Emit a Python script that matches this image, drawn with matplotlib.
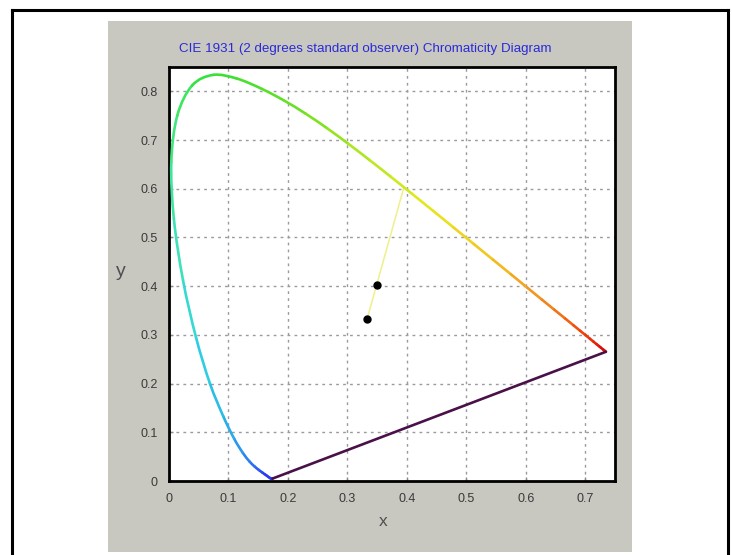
import numpy as np
import matplotlib
matplotlib.use("Agg")
import matplotlib.pyplot as plt
from matplotlib.colors import LinearSegmentedColormap
from matplotlib.patches import Rectangle, PathPatch
from matplotlib.path import Path
from matplotlib.lines import Line2D

# CIE 1931 spectral locus (wavelength nm, x, y)
wavelengths = [380, 390, 400, 410, 420, 425, 430, 435, 440, 445, 450, 455, 460, 465,
               470, 475, 480, 485, 490, 495, 500, 505, 510, 515, 520, 525, 530, 535,
               540, 545, 550, 555, 560, 565, 570, 575, 580, 585, 590, 595, 600, 605,
               610, 615, 620, 625, 630, 635, 640, 645, 650, 660, 670, 680, 700]
locus_x = [0.1741, 0.1738, 0.1733, 0.1726, 0.1714, 0.1703, 0.1689, 0.1669, 0.1644, 0.1611,
           0.1566, 0.1510, 0.1440, 0.1355, 0.1241, 0.1096, 0.0913, 0.0687, 0.0454, 0.0235,
           0.0082, 0.0039, 0.0139, 0.0389, 0.0743, 0.1142, 0.1547, 0.1929, 0.2296, 0.2658,
           0.3016, 0.3373, 0.3731, 0.4087, 0.4441, 0.4788, 0.5125, 0.5448, 0.5752, 0.6029,
           0.6270, 0.6482, 0.6658, 0.6801, 0.6915, 0.7006, 0.7079, 0.7140, 0.7190, 0.7230,
           0.7260, 0.7300, 0.7320, 0.7334, 0.7347]
locus_y = [0.0050, 0.0049, 0.0048, 0.0048, 0.0051, 0.0058, 0.0069, 0.0086, 0.0109, 0.0138,
           0.0177, 0.0227, 0.0297, 0.0399, 0.0578, 0.0868, 0.1327, 0.2007, 0.2950, 0.4127,
           0.5384, 0.6548, 0.7502, 0.8120, 0.8338, 0.8262, 0.8059, 0.7816, 0.7543, 0.7243,
           0.6923, 0.6589, 0.6245, 0.5896, 0.5547, 0.5202, 0.4866, 0.4544, 0.4242, 0.3965,
           0.3725, 0.3514, 0.3340, 0.3197, 0.3083, 0.2993, 0.2920, 0.2859, 0.2809, 0.2770,
           0.2740, 0.2700, 0.2680, 0.2666, 0.2653]

# Line of dominant wavelength: white point -> sample -> locus
dom_x = [0.3333, 0.3950]
dom_y = [0.3333, 0.6030]
points_x = [0.3333, 0.3490]
points_y = [0.3333, 0.4020]

x_ticks = [0, 0.1, 0.2, 0.3, 0.4, 0.5, 0.6, 0.7]
y_ticks = [0, 0.1, 0.2, 0.3, 0.4, 0.5, 0.6, 0.7, 0.8]
x_ticklabels = ["0", "0.1", "0.2", "0.3", "0.4", "0.5", "0.6", "0.7"]
y_ticklabels = ["0", "0.1", "0.2", "0.3", "0.4", "0.5", "0.6", "0.7", "0.8"]

title = "CIE 1931 (2 degrees standard observer) Chromaticity Diagram"

W, H = 732, 555
plt.rcParams["font.family"] = ["Liberation Sans", "DejaVu Sans"]
fig = plt.figure(figsize=(W / 100, H / 100), dpi=100, facecolor="white")

def fx(px):
    return px / W

def fy(py):
    return 1 - py / H

# gray panel
fig.patches.append(Rectangle((fx(108), fy(552)), fx(632) - fx(108), fy(21) - fy(552),
                             transform=fig.transFigure, facecolor="#c8c8c0",
                             edgecolor="none", zorder=-5))
# outer border (no bottom edge)
for xs, ys in [([12, 12], [10, 560]), ([12, 728], [10, 10]), ([728, 728], [10, 560])]:
    fig.add_artist(Line2D([fx(v) for v in xs], [fy(v) for v in ys],
                          transform=fig.transFigure, color="black", linewidth=2.2,
                          zorder=-4))

ax = fig.add_axes([fx(169), fy(481), fx(615) - fx(169), fy(67) - fy(481)])
ax.set_zorder(2)
ax.set_facecolor("white")
ax.set_xlim(0, 0.75)
ax.set_ylim(0, 0.85)

# color by wavelength
stops = [(380, "#2a30f0"), (450, "#2a40f0"), (470, "#2a8cf0"), (480, "#28b4e8"),
         (490, "#30d4e0"), (500, "#40e4b0"), (510, "#40e870"), (520, "#34e034"),
         (540, "#70e024"), (555, "#b4e820"), (570, "#e8e820"), (585, "#f2c420"),
         (600, "#f29020"), (620, "#f04a10"), (650, "#e01008"), (700, "#e00000")]
lo, hi = stops[0][0], stops[-1][0]
cmap = LinearSegmentedColormap.from_list(
    "locus", [((w - lo) / (hi - lo), c) for w, c in stops])

# smooth rendering of the locus: each segment drawn as a cubic Bezier
pts = np.column_stack([locus_x, locus_y])
n = len(pts)
for i in range(n - 1):
    p0 = pts[max(i - 1, 0)]
    p1 = pts[i]
    p2 = pts[i + 1]
    p3 = pts[min(i + 2, n - 1)]
    c1 = p1 + (p2 - p0) / 6.0
    c2 = p2 - (p3 - p1) / 6.0
    w_mid = (wavelengths[i] + wavelengths[i + 1]) / 2
    path = Path([p1, c1, c2, p2], [Path.MOVETO, Path.CURVE4, Path.CURVE4, Path.CURVE4])
    ax.add_patch(PathPatch(path, facecolor="none",
                           edgecolor=cmap((w_mid - lo) / (hi - lo)),
                           linewidth=1.9, capstyle="round", joinstyle="round", zorder=3))

# line of purples
ax.plot([locus_x[0], locus_x[-1]], [locus_y[0], locus_y[-1]], color="#4a1048",
        linewidth=1.9, zorder=3, solid_capstyle="round")

# dominant wavelength line and points
ax.plot(dom_x, dom_y, color="#eef08a", linewidth=1.1, zorder=2.5)
ax.plot(points_x, points_y, "o", color="black", markersize=5, zorder=4)

ax.set_xticks(x_ticks)
ax.set_xticklabels(x_ticklabels)
ax.set_yticks(y_ticks)
ax.set_yticklabels(y_ticklabels)
ax.grid(True, color="#9a9aa0", linestyle=(0, (2, 3)), linewidth=1.0)
ax.set_axisbelow(True)
ax.tick_params(axis="both", direction="in", length=3, width=1, color="#888888",
               labelsize=9, labelcolor="#3a3a3a")
ax.tick_params(axis="x", pad=9)
ax.tick_params(axis="y", pad=8)
for s in ax.spines.values():
    s.set_linewidth(2)
    s.set_color("black")

fig.text(fx(121), fy(272), "y", fontsize=14, color="#505050", ha="center", va="center")
fig.text(fx(383), fy(522), "x", fontsize=12.5, color="#505050", ha="center", va="center")
fig.text(fx(365), fy(49), title, fontsize=9.6, color="#2a2ad8", ha="center", va="center")

fig.savefig("out.png", dpi=100, facecolor="white")
